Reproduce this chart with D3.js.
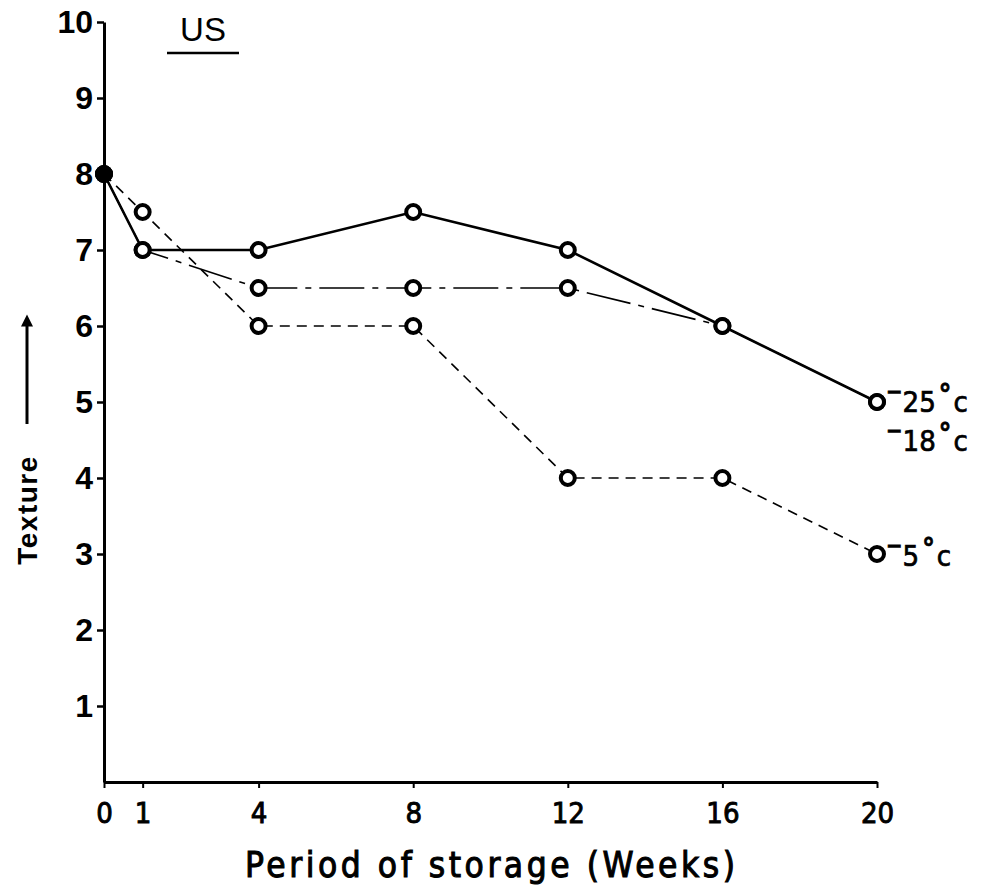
<!DOCTYPE html>
<html>
<head>
<meta charset="utf-8">
<script src="https://cdn.jsdelivr.net/npm/d3@7"></script>
<style>
  body { margin: 0; background: #fff; }
  svg { display: block; }
</style>
</head>
<body>
<div id="chart"></div>
<script>
// storage time in weeks
const weeks = [0, 1, 4, 8, 12, 16, 20];
const xTicks = [0, 1, 4, 8, 12, 16, 20];
const yTicks = [1, 2, 3, 4, 5, 6, 7, 8, 9, 10];

// texture scores, one array per storage temperature
const texture25 = [8, 7, 7, 7.5, 7, 6, 5];
const texture18 = [8, 7, 6.5, 6.5, 6.5, 6, 5];
const texture5 = [8, 7.5, 6, 6, 4, 4, 3];

const seriesNames = ["25", "18", "5"];

const width = 984, height = 892;

const svg = d3.select("#chart").append("svg")
  .attr("width", width)
  .attr("height", height);

const x = d3.scaleLinear().domain([0, 20]).range([104, 877]);
const y = d3.scaleLinear().domain([0, 10]).range([782, 22]);

const tickFont = "'Liberation Sans', Arial, sans-serif";
const condFont = "'DejaVu Sans Condensed', 'DejaVu Sans', sans-serif";

// y axis
const yAxis = svg.append("g")
  .attr("transform", "translate(" + x(0) + ",0)")
  .call(d3.axisLeft(y).tickValues(yTicks).tickSize(7).tickPadding(4).tickSizeOuter(0));

yAxis.select(".domain").attr("stroke-width", 3);
yAxis.selectAll(".tick line").attr("stroke-width", 2.5);
yAxis.selectAll(".tick text")
  .style("font-family", tickFont)
  .style("font-size", "32px")
  .style("font-weight", "bold")
  .attr("fill", "#000");

// x axis
const xAxis = svg.append("g")
  .attr("transform", "translate(0," + y(0) + ")")
  .call(d3.axisBottom(x).tickValues(xTicks).tickSize(6).tickPadding(14).tickSizeOuter(0));

xAxis.select(".domain").attr("stroke-width", 3);
xAxis.selectAll(".tick line").attr("stroke-width", 2);
xAxis.selectAll(".tick text")
  .style("font-family", condFont)
  .style("font-size", "29px")
  .attr("fill", "#000")
  .attr("stroke", "#000")
  .attr("stroke-width", 0.9);

// axis titles
svg.append("text")
  .attr("x", 245)
  .attr("y", 877)
  .attr("textLength", 490)
  .attr("lengthAdjust", "spacing")
  .style("font-family", condFont)
  .style("font-size", "35px")
  .attr("stroke", "#000")
  .attr("stroke-width", 1)
  .text("Period of storage (Weeks)");

svg.append("text")
  .attr("transform", "translate(37,510) rotate(-90)")
  .attr("text-anchor", "middle")
  .style("font-family", tickFont)
  .style("font-size", "28px")
  .style("font-weight", "bold")
  .style("letter-spacing", "1.5px")
  .text("Texture");

// arrow beside the y title
svg.append("defs").append("marker")
  .attr("id", "arrowHead")
  .attr("viewBox", "0 0 10 10")
  .attr("refX", 2).attr("refY", 5)
  .attr("markerWidth", 6).attr("markerHeight", 4)
  .attr("orient", "auto")
  .append("path")
  .attr("d", "M0,0 L10,5 L0,10 Z")
  .attr("fill", "#000");

svg.append("line")
  .attr("x1", 27).attr("y1", 424)
  .attr("x2", 27).attr("y2", 324)
  .attr("stroke", "#000")
  .attr("stroke-width", 3)
  .attr("marker-end", "url(#arrowHead)");

// US heading
svg.append("text")
  .attr("x", 203)
  .attr("y", 41)
  .attr("text-anchor", "middle")
  .style("font-family", tickFont)
  .style("font-size", "33px")
  .text("US");

svg.append("line")
  .attr("x1", 167).attr("x2", 239)
  .attr("y1", 53).attr("y2", 53)
  .attr("stroke", "#000")
  .attr("stroke-width", 2.5);

// series
const series = [
  { name: seriesNames[0], values: texture25, width: 2.6, dash: null, dy: 10 },
  { name: seriesNames[1], values: texture18, width: 1.6, dash: "45,8,6,8", dy: 49 },
  { name: seriesNames[2], values: texture5, width: 1.6, dash: "10,7", dy: 12 }
];

const line = d3.line()
  .x(d => x(d.week))
  .y(d => y(d.value));

series.forEach(s => {
  s.points = weeks.map((w, i) => ({ week: w, value: s.values[i] }));
});

svg.append("g").selectAll("path")
  .data(series.slice().reverse())
  .enter().append("path")
  .attr("d", d => line(d.points))
  .attr("fill", "none")
  .attr("stroke", "#000")
  .attr("stroke-width", d => d.width)
  .attr("stroke-dasharray", d => d.dash);

svg.append("g").selectAll("g")
  .data(series)
  .enter().append("g")
  .selectAll("circle")
  .data(d => d.points)
  .enter().append("circle")
  .attr("cx", d => x(d.week))
  .attr("cy", d => y(d.value))
  .attr("r", 7)
  .attr("fill", (d, i) => i === 0 ? "#000" : "#fff")
  .attr("stroke", "#000")
  .attr("stroke-width", 4);

// end labels
const labels = svg.append("g").selectAll("text")
  .data(series)
  .enter().append("text")
  .attr("x", d => x(weeks[weeks.length - 1]) + 9)
  .attr("y", d => y(d.values[d.values.length - 1]) + d.dy)
  .style("font-family", condFont)
  .style("font-size", "29px")
  .attr("stroke", "#000")
  .attr("stroke-width", 0.7);

labels.append("tspan")
  .attr("dy", -13)
  .style("font-size", "22px")
  .style("font-weight", "bold")
  .text("\u2212");
labels.append("tspan")
  .attr("dy", 13)
  .text(d => d.name);
labels.append("tspan")
  .attr("dy", -8)
  .attr("dx", 3)
  .style("font-size", "28px")
  .style("font-weight", "bold")
  .text("\u00B0");
labels.append("tspan")
  .attr("dy", 8)
  .attr("dx", 2)
  .text("c");
</script>
</body>
</html>
